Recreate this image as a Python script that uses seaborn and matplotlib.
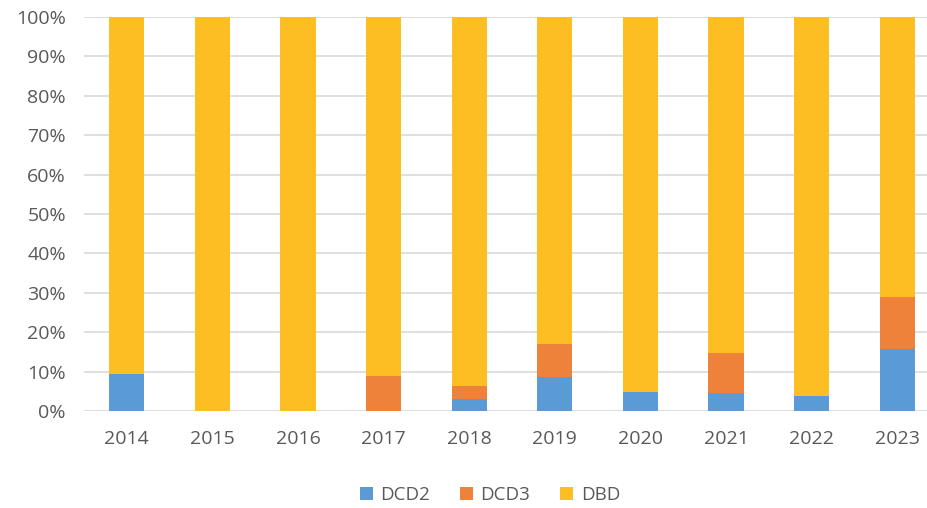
import numpy as np
import pandas as pd
import matplotlib
matplotlib.use("Agg")
import matplotlib.pyplot as plt
import seaborn as sns
from matplotlib.ticker import PercentFormatter
from matplotlib.patches import Patch

years = ["2014", "2015", "2016", "2017", "2018", "2019", "2020", "2021", "2022", "2023"]
dcd2 = [9.3, 0.0, 0.0, 0.0, 3.0, 8.5, 4.9, 4.6, 3.8, 15.8]
dcd3 = [0.0, 0.0, 0.0, 8.8, 3.3, 8.5, 0.0, 10.2, 0.0, 13.1]
dbd = [100 - a - b for a, b in zip(dcd2, dcd3)]

series_names = ["DCD2", "DCD3", "DBD"]
colors = ["#5B9BD5", "#EF823A", "#FCBE22"]

sns.set_theme(style="white")
plt.rcParams["font.family"] = ["Open Sans", "DejaVu Sans"]

fig = plt.figure(figsize=(9.28, 5.08), dpi=100)
ax = fig.add_axes([0.0905, 0.191, 1.0 - 0.0905, 0.9665 - 0.191])

df = pd.DataFrame({"year": years, "DCD2": dcd2, "DCD3": dcd3, "DBD": dbd})
bottom = np.zeros(len(years))
for name, col in zip(series_names, colors):
    sns.barplot(data=df, x="year", y=name, color=col, width=0.41,
                bottom=bottom, ax=ax, saturation=1, zorder=3,
                linewidth=0, edgecolor="none")
    bottom = bottom + df[name].values

ax.set_ylim(0, 100)
ax.set_xlim(-0.5, 9.36)
ax.set_yticks(np.arange(0, 101, 10))
ax.yaxis.set_major_formatter(PercentFormatter(decimals=0))
ax.grid(axis="y", color="#D9D9D9", linewidth=1.2, zorder=0)
ax.set_axisbelow(True)
for s in ax.spines.values():
    s.set_visible(False)
ax.set_xlabel("")
ax.set_ylabel("")
ax.tick_params(axis="both", length=0, labelsize=14, colors="#595959")
ax.tick_params(axis="y", pad=13)
ax.tick_params(axis="x", pad=14)

handles = [Patch(facecolor=c, edgecolor="none", label=n) for n, c in zip(series_names, colors)]
fig.legend(handles=handles, loc="center", bbox_to_anchor=(0.528, 0.026), ncol=3,
           frameon=False, fontsize=13.5, labelcolor="#595959", handlelength=0.7,
           handleheight=0.7, handletextpad=0.4, columnspacing=1.6)

fig.savefig("out.png", dpi=100)
